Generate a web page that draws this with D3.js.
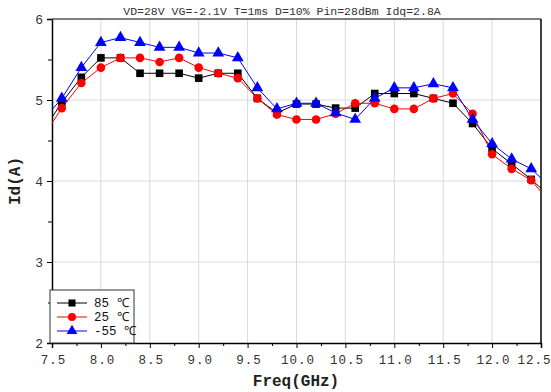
<!DOCTYPE html>
<html lang="en">
  <head>
    <meta charset="UTF-8" />
    <script src="https://d3js.org/d3.v7.min.js"></script>
    <title>Id vs Freq</title>
    <style>
      body { margin: 0; background: #fff; }
      text { font-family: "Liberation Mono", monospace; }
    </style>
  </head>
  <body>
    <div id="chart"></div>
    <script>
      // frequency points (GHz); 7.4 and 12.6 run past the frame and get clipped
      var freq = [7.4, 7.6, 7.8, 8.0, 8.2, 8.4, 8.6, 8.8, 9.0, 9.2, 9.4, 9.6, 9.8, 10.0,
        10.2, 10.4, 10.6, 10.8, 11.0, 11.2, 11.4, 11.6, 11.8, 12.0, 12.2, 12.4, 12.6];

      var id85 = [4.6, 4.97, 5.28, 5.52, 5.52, 5.33, 5.33, 5.33, 5.27, 5.33, 5.33, 5.02, 4.84, 4.95,
        4.95, 4.9, 4.9, 5.08, 5.08, 5.08, 5.02, 4.96, 4.71, 4.4, 4.21, 4.02, 3.8];
      var id25 = [4.53, 4.9, 5.21, 5.4, 5.52, 5.52, 5.47, 5.52, 5.4, 5.33, 5.27, 5.02, 4.82, 4.76,
        4.76, 4.83, 4.96, 4.96, 4.89, 4.89, 5.02, 5.08, 4.83, 4.33, 4.15, 4.01, 3.72];
      var idm55 = [4.74, 5.02, 5.4, 5.71, 5.77, 5.71, 5.65, 5.65, 5.58, 5.58, 5.52, 5.15, 4.89, 4.96,
        4.96, 4.84, 4.76, 5.02, 5.15, 5.15, 5.2, 5.15, 4.76, 4.46, 4.27, 4.15, 3.92];

      var seriesNames = ["85 \u2103", "25 \u2103", "-55 \u2103"];
      var seriesColors = ["#000000", "#ff0000", "#0000ff"];
      var seriesShapes = [d3.symbolSquare, d3.symbolCircle, d3.symbolTriangle];

      var xTicks = [7.5, 8.0, 8.5, 9.0, 9.5, 10.0, 10.5, 11.0, 11.5, 12.0, 12.5];
      var yTicks = [2, 3, 4, 5, 6];
      var title = "VD=28V VG=-2.1V T=1ms D=10% Pin=28dBm Idq=2.8A";

      var width = 551,
        height = 392,
        margin = { top: 19, right: 10, bottom: 49, left: 52 };

      var svg = d3.select("#chart").append("svg")
        .attr("width", width).attr("height", height);

      var x = d3.scaleLinear().domain([7.5, 12.5]).range([margin.left, width - margin.right]);
      var y = d3.scaleLinear().domain([2, 6]).range([height - margin.bottom, margin.top]);

      // grid
      svg.append("g").selectAll("line.gx")
        .data(xTicks.slice(1, -1))
        .join("line")
        .attr("x1", function (d) { return x(d); }).attr("x2", function (d) { return x(d); })
        .attr("y1", y(2)).attr("y2", y(6))
        .attr("stroke", "#d9d9d9").attr("stroke-width", 1);
      svg.append("g").selectAll("line.gy")
        .data(yTicks.slice(1, -1))
        .join("line")
        .attr("x1", x(7.5)).attr("x2", x(12.5))
        .attr("y1", function (d) { return y(d); }).attr("y2", function (d) { return y(d); })
        .attr("stroke", "#d9d9d9").attr("stroke-width", 1);

      // axes
      var xAxis = svg.append("g")
        .attr("transform", "translate(0," + y(2) + ")")
        .call(d3.axisBottom(x).tickValues(xTicks).tickFormat(d3.format(".1f")).tickSize(5).tickPadding(7));
      svg.append("g")
        .attr("transform", "translate(0," + y(2) + ")")
        .call(d3.axisBottom(x).tickValues(d3.range(7.75, 12.5, 0.5)).tickFormat("").tickSize(3))
        .call(function (g) { g.select(".domain").remove(); });
      var yAxis = svg.append("g")
        .attr("transform", "translate(" + x(7.5) + ",0)")
        .call(d3.axisLeft(y).tickValues(yTicks).tickFormat(d3.format("d")).tickSize(5).tickPadding(4));
      svg.append("g")
        .attr("transform", "translate(" + x(7.5) + ",0)")
        .call(d3.axisLeft(y).tickValues([2.5, 3.5, 4.5, 5.5]).tickFormat("").tickSize(4))
        .call(function (g) { g.select(".domain").remove(); });

      svg.selectAll(".domain").attr("stroke-width", 1.5);
      svg.selectAll(".tick text")
        .attr("font-size", 13)
        .attr("font-family", "Liberation Mono, monospace")
        .attr("fill", "#333");
      xAxis.selectAll(".tick text")
        .attr("font-size", 12.5)
        .attr("letter-spacing", 1)
        .attr("dx", function (d) { return d === 12.5 ? -7 : 1; });
      yAxis.selectAll(".tick text").attr("dy", "0.35em");

      // top and right frame
      svg.append("line")
        .attr("x1", x(7.5)).attr("x2", x(12.5)).attr("y1", y(6)).attr("y2", y(6))
        .attr("stroke", "#555").attr("stroke-width", 1.5);
      svg.append("line")
        .attr("x1", x(12.5)).attr("x2", x(12.5)).attr("y1", y(6)).attr("y2", y(2))
        .attr("stroke", "#000").attr("stroke-width", 1.5);

      // series
      svg.append("clipPath").attr("id", "clip")
        .append("rect")
        .attr("x", x(7.5)).attr("y", y(6))
        .attr("width", x(12.5) - x(7.5)).attr("height", y(2) - y(6));

      var series = [id85, id25, idm55];
      var line = d3.line()
        .x(function (d, i) { return x(freq[i]); })
        .y(function (d) { return y(d); });

      var plot = svg.append("g").attr("clip-path", "url(#clip)");
      series.forEach(function (vals, k) {
        plot.append("path")
          .datum(vals)
          .attr("d", line)
          .attr("fill", "none")
          .attr("stroke", seriesColors[k])
          .attr("stroke-width", 1);
      });
      series.forEach(function (vals, k) {
        var sym = d3.symbol().type(seriesShapes[k]).size(k === 2 ? 60 : 58);
        plot.append("g").selectAll("path")
          .data(vals)
          .join("path")
          .attr("d", sym)
          .attr("transform", function (d, i) { return "translate(" + x(freq[i]) + "," + y(d) + ")"; })
          .attr("fill", seriesColors[k]);
      });

      // title and axis labels
      svg.append("text")
        .attr("x", 282).attr("y", 15)
        .attr("text-anchor", "middle")
        .attr("font-size", 11.5)
        .attr("fill", "#333")
        .text(title);

      svg.append("text")
        .attr("x", 296).attr("y", 386)
        .attr("text-anchor", "middle")
        .attr("font-size", 16)
        .attr("font-weight", "bold")
        .attr("fill", "#222")
        .text("Freq(GHz)");

      svg.append("text")
        .attr("transform", "translate(20," + y(4) + ") rotate(-90)")
        .attr("text-anchor", "middle")
        .attr("font-size", 16)
        .attr("font-weight", "bold")
        .attr("fill", "#222")
        .text("Id(A)");

      // legend
      var lg = svg.append("g").attr("transform", "translate(50,290)");
      lg.append("rect")
        .attr("width", 84).attr("height", 53)
        .attr("fill", "#fff").attr("stroke", "#333").attr("stroke-width", 1);
      seriesNames.forEach(function (name, k) {
        var row = lg.append("g").attr("transform", "translate(0," + (13 + k * 14) + ")");
        row.append("line")
          .attr("x1", 7).attr("x2", 37)
          .attr("stroke", seriesColors[k]).attr("stroke-width", 1);
        row.append("path")
          .attr("d", d3.symbol().type(seriesShapes[k]).size(50))
          .attr("transform", "translate(22,0)")
          .attr("fill", seriesColors[k]);
        row.append("text")
          .attr("x", 44).attr("dy", "0.35em")
          .attr("font-family", "Noto Sans, sans-serif")
          .attr("font-size", 12.5)
          .attr("fill", "#111")
          .text(name);
      });
    </script>
  </body>
</html>
